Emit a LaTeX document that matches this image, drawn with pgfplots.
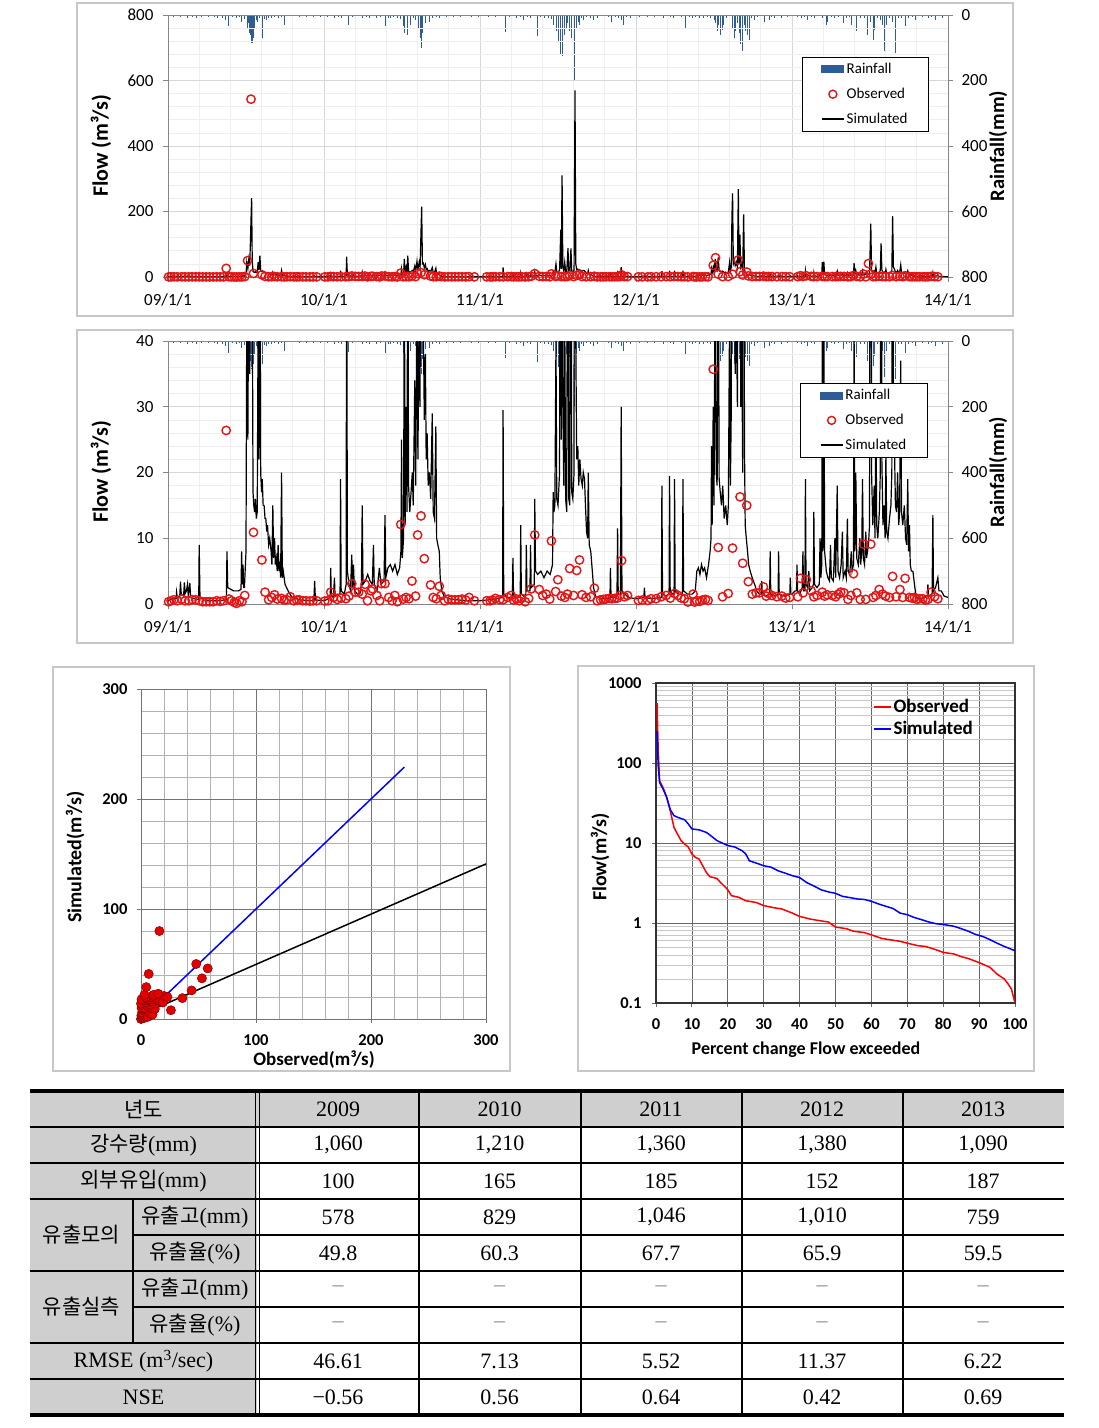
\documentclass[border=0pt]{standalone}
\usepackage{pgfplots}
\pgfplotsset{compat=1.18}
\usepackage{pgfplotstable}
\usepackage{fontspec}
\setmainfont{Carlito}
\newfontfamily\krfont{Noto Sans CJK KR}
\newfontfamily\tabserif{Liberation Serif}
\definecolor{rainblue}{RGB}{46,92,150}
\definecolor{obsred}{RGB}{230,20,20}
\definecolor{axgray}{RGB}{134,134,134}
\definecolor{gridmaj}{RGB}{215,215,215}
\definecolor{gridmin}{RGB}{238,238,238}
\definecolor{framegray}{RGB}{200,200,200}
\definecolor{tabgray}{RGB}{207,207,207}

\pgfplotstableread{
x y
2009.000 0.5
2009.030 0.8
2009.052 0.8
2009.055 1.8
2009.060 0.9
2009.075 1.0
2009.080 3.4
2009.085 1.5
2009.100 1.2
2009.105 3.3
2009.110 1.6
2009.118 2.0
2009.125 3.0
2009.130 1.2
2009.140 3.2
2009.145 1.0
2009.170 0.8
2009.197 0.7
2009.200 9.0
2009.205 1.0
2009.230 0.6
2009.300 0.5
2009.374 0.6
2009.378 8.0
2009.383 2.5
2009.420 2.0
2009.450 2.0
2009.468 2.2
2009.472 8.0
2009.476 3.0
2009.481 6.0
2009.485 2.5
2009.490 2.5
2009.500 8
2009.505 45
2009.512 25
2009.518 55
2009.524 35
2009.536 241
2009.540 50
2009.545 17
2009.550 15
2009.555 14
2009.560 16
2009.566 13
2009.572 14
2009.578 45
2009.583 22
2009.589 65
2009.594 20
2009.600 17
2009.604 19
2009.610 15
2009.616 15
2009.622 13
2009.627 13
2009.633 11
2009.638 12
2009.645 9
2009.652 10
2009.661 8
2009.666 6
2009.672 15
2009.677 7
2009.683 10
2009.688 6
2009.694 7
2009.700 5
2009.706 9
2009.711 5
2009.717 6
2009.722 4
2009.728 20
2009.733 4
2009.739 5
2009.750 3
2009.770 2
2009.795 1
2009.850 0.6
2009.935 0.5
2009.940 3.5
2009.945 0.6
2010.000 0.5
2010.030 0.8
2010.040 1.0
2010.043 5.5
2010.047 1.2
2010.060 1.0
2010.067 4.0
2010.071 1.2
2010.085 1.5
2010.103 1.5
2010.106 19
2010.110 2
2010.130 1.5
2010.142 3
2010.145 62
2010.150 5
2010.160 3
2010.170 2
2010.178 7.5
2010.183 2.5
2010.189 6
2010.195 2
2010.215 1.5
2010.230 1.5
2010.240 3
2010.245 15
2010.250 3
2010.265 3.5
2010.280 4.5
2010.295 3.5
2010.310 3
2010.317 9
2010.322 3
2010.340 2
2010.355 5.5
2010.365 3
2010.385 3.5
2010.391 13.5
2010.396 4
2010.410 5.5
2010.425 6
2010.440 5
2010.455 6
2010.470 4.5
2010.485 5.5
2010.493 8
2010.497 25
2010.502 7
2010.510 10
2010.515 55
2010.520 12
2010.527 30
2010.532 14
2010.537 65
2010.542 18
2010.550 14
2010.558 17
2010.566 20
2010.572 15
2010.582 34
2010.588 18
2010.596 48
2010.602 22
2010.610 45
2010.616 30
2010.626 215
2010.631 40
2010.637 42
2010.643 28
2010.650 38
2010.655 22
2010.661 26
2010.668 18
2010.676 20
2010.684 16
2010.694 29
2010.700 14
2010.708 13
2010.717 27
2010.722 10
2010.730 9
2010.739 8
2010.745 4
2010.755 2
2010.770 1.2
2010.800 0.8
2010.900 0.5
2011.000 0.5
2011.050 0.6
2011.100 0.8
2011.145 1
2011.148 29.5
2011.152 1.5
2011.180 1
2011.208 1
2011.211 7
2011.215 1.2
2011.240 1
2011.258 1.2
2011.261 12
2011.265 1.5
2011.280 1.2
2011.294 1.5
2011.297 9
2011.301 2
2011.320 2
2011.324 9
2011.328 2.5
2011.348 3
2011.351 16
2011.356 5
2011.370 4.5
2011.390 5
2011.410 4
2011.430 5
2011.450 4.5
2011.465 6
2011.469 17
2011.474 14
2011.480 15
2011.487 40
2011.492 16
2011.500 15
2011.510 20
2011.518 145
2011.521 25
2011.526 310
2011.531 30
2011.537 18
2011.543 45
2011.549 16
2011.556 14
2011.564 88
2011.569 16
2011.576 15
2011.583 87
2011.588 17
2011.595 16
2011.603 20
2011.609 570
2011.614 40
2011.620 22
2011.627 24
2011.633 18
2011.640 22
2011.648 19
2011.656 18
2011.662 20
2011.670 19
2011.676 15
2011.683 11
2011.690 10
2011.694 20
2011.700 9
2011.710 8
2011.720 5
2011.728 2.5
2011.740 1.2
2011.780 0.8
2011.833 0.8
2011.836 5.5
2011.840 1
2011.860 1
2011.878 1.2
2011.882 11.5
2011.886 1.5
2011.900 1.5
2011.905 30
2011.910 2
2011.950 1
2012.000 0.8
2012.050 1
2012.054 2.5
2012.058 1
2012.100 0.8
2012.163 1
2012.166 18
2012.170 1.5
2012.190 1.2
2012.212 1.5
2012.215 19.5
2012.219 2
2012.235 1.5
2012.244 1.5
2012.247 19
2012.251 2
2012.270 1.5
2012.298 1.5
2012.301 19
2012.305 2
2012.330 1.5
2012.360 1.5
2012.380 2
2012.390 5
2012.400 5.5
2012.410 4.5
2012.420 6
2012.430 5
2012.440 5.5
2012.452 4
2012.465 6
2012.475 8
2012.481 10
2012.484 24
2012.488 12
2012.495 30
2012.500 15
2012.508 55
2012.514 20
2012.520 18
2012.527 60
2012.533 19
2012.540 17
2012.548 15
2012.556 18
2012.565 13
2012.575 15
2012.585 12
2012.592 15
2012.600 45
2012.605 18
2012.611 30
2012.615 186
2012.619 255
2012.624 40
2012.630 50
2012.636 35
2012.643 45
2012.650 30
2012.656 268
2012.660 40
2012.666 129
2012.671 30
2012.678 40
2012.684 20
2012.690 191
2012.695 25
2012.700 12
2012.707 10
2012.715 8
2012.722 6
2012.732 5
2012.745 4
2012.760 3
2012.774 2
2012.790 1.5
2012.803 1.5
2012.806 3.5
2012.810 1.5
2012.830 1.2
2012.857 1.5
2012.860 8
2012.864 1.5
2012.890 1.2
2012.911 1.5
2012.914 8
2012.918 1.5
2012.950 1.2
2012.986 1.5
2012.989 4
2012.993 1.5
2013.000 1.5
2013.020 2
2013.029 2
2013.032 6
2013.036 2
2013.050 1.5
2013.065 2.5
2013.070 8
2013.074 2
2013.083 2
2013.086 19
2013.090 3
2013.100 2.5
2013.108 5
2013.113 2
2013.130 2.5
2013.137 3
2013.140 14
2013.144 3
2013.160 2.5
2013.175 3
2013.180 10
2013.185 4
2013.191 6
2013.194 45
2013.198 8
2013.204 47
2013.209 8
2013.220 5
2013.230 4
2013.240 3.5
2013.247 9
2013.252 4
2013.265 3.5
2013.275 10
2013.280 4
2013.290 18
2013.295 5
2013.305 4
2013.315 6
2013.323 11
2013.328 4
2013.340 5
2013.348 4
2013.355 13
2013.360 5
2013.370 4.5
2013.380 8
2013.385 5
2013.394 6
2013.398 42
2013.403 8
2013.409 20
2013.415 7
2013.425 6
2013.435 10
2013.440 6
2013.447 8
2013.452 19
2013.457 7
2013.465 6
2013.473 11
2013.478 7
2013.490 9
2013.497 12
2013.505 163
2013.510 20
2013.518 12
2013.527 18
2013.532 10
2013.538 30
2013.543 12
2013.550 10
2013.560 14
2013.566 20
2013.571 103
2013.576 22
2013.583 12
2013.590 15
2013.597 10
2013.602 23
2013.607 11
2013.615 10
2013.625 13
2013.634 15
2013.640 20
2013.645 186
2013.650 30
2013.656 25
2013.663 15
2013.670 14
2013.677 20
2013.684 12
2013.690 14
2013.697 37
2013.702 14
2013.710 12
2013.720 15
2013.728 10
2013.735 9
2013.742 19
2013.747 8
2013.753 12
2013.758 6
2013.765 5
2013.775 5
2013.785 3
2013.796 1
2013.820 0.8
2013.850 1
2013.868 1.2
2013.871 3
2013.875 1.2
2013.898 1.5
2013.903 13.5
2013.907 2
2013.920 2.5
2013.935 4
2013.942 2
2013.957 2
2013.975 1.2
2014.000 1
}\simdata

\pgfplotstableread{
x y
2009.004 0.35
2009.020 0.5
2009.038 0.65
2009.060 0.5
2009.088 0.75
2009.110 0.5
2009.133 0.5
2009.155 0.65
2009.178 0.65
2009.200 0.5
2009.222 0.35
2009.245 0.35
2009.267 0.35
2009.290 0.35
2009.312 0.5
2009.335 0.4
2009.357 0.5
2009.373 26.4
2009.391 0.75
2009.408 0.5
2009.425 0.25
2009.440 0.1
2009.458 0.5
2009.474 0.35
2009.492 1.3
2009.510 50
2009.532 543
2009.548 10.9
2009.602 6.7
2009.622 1.8
2009.645 0.65
2009.665 1.0
2009.683 1.4
2009.701 0.75
2009.728 0.85
2009.745 0.6
2009.762 0.65
2009.784 1.1
2009.807 0.5
2009.825 0.6
2009.840 0.65
2009.863 0.5
2009.885 0.5
2009.910 0.45
2009.930 0.5
2009.953 0.5
2010.005 0.45
2010.025 0.5
2010.043 1.8
2010.061 1.0
2010.085 0.7
2010.110 0.9
2010.140 0.8
2010.160 1.2
2010.178 3.1
2010.200 1.8
2010.222 1.8
2010.245 1.5
2010.263 3.0
2010.279 0.5
2010.301 2.0
2010.312 2.3
2010.339 1.3
2010.357 0.5
2010.369 3.1
2010.391 3.1
2010.415 1.0
2010.436 0.5
2010.454 1.3
2010.470 0.35
2010.492 12.1
2010.508 0.75
2010.526 1.0
2010.545 0.8
2010.564 3.5
2010.587 1.2
2010.600 10.5
2010.622 13.4
2010.643 6.9
2010.683 2.9
2010.700 1.0
2010.720 0.8
2010.739 2.7
2010.751 1.3
2010.773 0.5
2010.796 0.75
2010.818 0.65
2010.840 0.65
2010.863 0.65
2010.885 0.75
2010.908 0.6
2010.930 1.0
2010.964 0.5
2011.043 0.5
2011.065 0.5
2011.080 0.6
2011.099 0.85
2011.126 0.65
2011.148 0.65
2011.178 1.0
2011.200 1.3
2011.215 0.6
2011.234 0.75
2011.250 0.5
2011.267 0.85
2011.290 0.35
2011.312 0.85
2011.328 2.3
2011.351 10.5
2011.380 2.2
2011.402 1.3
2011.425 1.5
2011.447 0.75
2011.458 9.6
2011.485 1.9
2011.499 3.7
2011.522 1.2
2011.544 1.0
2011.560 1.5
2011.575 5.4
2011.600 1.3
2011.620 5.1
2011.638 6.7
2011.654 1.4
2011.680 1.0
2011.710 1.1
2011.733 2.4
2011.751 0.5
2011.773 0.65
2011.790 0.7
2011.807 0.75
2011.829 0.85
2011.845 0.8
2011.863 0.85
2011.880 0.9
2011.897 1.3
2011.908 6.6
2011.925 1.1
2011.946 1.3
2012.015 0.55
2012.040 0.6
2012.075 0.55
2012.097 0.8
2012.129 0.8
2012.161 1.1
2012.194 1.3
2012.220 0.9
2012.247 1.6
2012.269 1.3
2012.290 0.9
2012.310 0.8
2012.333 0.3
2012.366 1.5
2012.376 0.3
2012.390 0.5
2012.409 0.4
2012.425 0.6
2012.445 0.7
2012.462 0.55
2012.495 35.7
2012.510 59
2012.527 8.6
2012.555 1.1
2012.591 1.6
2012.619 8.5
2012.655 52
2012.667 16.3
2012.684 6.2
2012.710 15
2012.720 3.4
2012.745 1.5
2012.770 1.7
2012.791 1.7
2012.817 2.6
2012.835 1.2
2012.849 1.6
2012.871 1.3
2012.903 1.1
2012.935 1.2
2012.960 0.9
2012.985 1.0
2013.037 1.1
2013.054 3.9
2013.071 1.7
2013.092 3.7
2013.123 2.0
2013.140 1.1
2013.161 1.3
2013.194 1.8
2013.210 1.2
2013.226 1.4
2013.258 1.3
2013.280 1.1
2013.297 1.5
2013.312 1.8
2013.333 1.7
2013.359 0.7
2013.377 1.3
2013.394 4.6
2013.415 1.7
2013.437 0.7
2013.458 9.1
2013.473 0.7
2013.490 41
2013.505 9.1
2013.520 1.0
2013.538 1.3
2013.559 2.2
2013.580 1.5
2013.600 1.2
2013.625 1.0
2013.645 4.2
2013.667 1.1
2013.692 2.2
2013.710 1.0
2013.725 3.9
2013.753 1.0
2013.770 0.9
2013.785 1.0
2013.800 0.7
2013.817 0.8
2013.839 0.8
2013.855 0.6
2013.871 0.7
2013.892 1.8
2013.914 1.1
2013.935 0.8
}\obsdata

\pgfplotstableread{
x r
2009.034 5
2009.055 3
2009.079 5
2009.100 4
2009.124 8
2009.140 3
2009.157 5
2009.180 8
2009.195 4
2009.213 5
2009.235 3
2009.258 5
2009.280 4
2009.300 6
2009.315 8
2009.335 3
2009.348 8
2009.371 15
2009.387 35
2009.410 6
2009.438 10
2009.455 5
2009.472 20
2009.490 12
2009.506 40
2009.514 25
2009.521 55
2009.528 60
2009.535 85
2009.539 87
2009.546 70
2009.555 40
2009.565 15
2009.573 20
2009.585 10
2009.596 35
2009.607 70
2009.618 12
2009.629 15
2009.645 8
2009.663 10
2009.685 6
2009.708 10
2009.725 5
2009.748 30
2009.770 4
2009.798 8
2009.820 3
2009.843 5
2009.870 3
2009.888 5
2009.910 3
2009.933 5
2009.955 3
2009.978 5
2010.022 5
2010.045 4
2010.067 8
2010.090 5
2010.112 10
2010.135 4
2010.157 32
2010.180 5
2010.202 8
2010.225 4
2010.247 10
2010.270 5
2010.292 8
2010.315 4
2010.337 10
2010.360 6
2010.393 35
2010.410 8
2010.427 10
2010.445 6
2010.470 8
2010.490 12
2010.506 35
2010.517 55
2010.535 60
2010.551 30
2010.570 10
2010.585 15
2010.596 20
2010.607 40
2010.618 70
2010.625 100
2010.634 55
2010.652 25
2010.674 20
2010.697 10
2010.720 6
2010.742 8
2010.765 4
2010.787 5
2010.810 3
2010.831 5
2010.855 3
2010.876 5
2010.910 3
2010.944 5
2010.970 3
2010.989 5
2011.020 3
2011.056 5
2011.080 3
2011.101 5
2011.130 4
2011.164 51
2011.190 5
2011.215 3
2011.236 8
2011.260 5
2011.281 15
2011.305 6
2011.326 10
2011.345 4
2011.366 65
2011.390 6
2011.416 10
2011.440 8
2011.460 12
2011.472 30
2011.488 50
2011.501 80
2011.517 118
2011.528 126
2011.539 60
2011.551 40
2011.562 25
2011.573 50
2011.584 70
2011.596 45
2011.607 200
2011.618 40
2011.630 20
2011.640 30
2011.652 10
2011.663 15
2011.685 6
2011.708 8
2011.730 15
2011.753 10
2011.775 4
2011.798 8
2011.820 5
2011.843 20
2011.865 5
2011.888 8
2011.905 15
2011.918 30
2011.940 5
2011.965 8
2011.985 4
2012.020 5
2012.045 3
2012.070 6
2012.095 4
2012.120 5
2012.150 3
2012.176 10
2012.200 4
2012.220 6
2012.241 8
2012.265 4
2012.290 5
2012.316 40
2012.340 6
2012.359 10
2012.380 5
2012.405 8
2012.434 10
2012.455 6
2012.480 8
2012.500 15
2012.510 25
2012.520 50
2012.530 30
2012.538 60
2012.553 45
2012.563 30
2012.580 10
2012.600 15
2012.617 40
2012.628 70
2012.639 50
2012.650 25
2012.660 55
2012.671 90
2012.682 110
2012.692 30
2012.703 50
2012.714 60
2012.725 75
2012.740 10
2012.757 15
2012.780 6
2012.800 5
2012.822 20
2012.854 15
2012.870 5
2012.886 8
2012.905 4
2012.929 10
2012.950 3
2012.972 5
2012.990 3
2013.015 4
2013.035 6
2013.058 10
2013.080 5
2013.101 15
2013.125 5
2013.144 10
2013.170 4
2013.195 8
2013.219 30
2013.230 20
2013.250 5
2013.273 10
2013.300 6
2013.327 25
2013.350 8
2013.365 5
2013.381 30
2013.400 10
2013.413 50
2013.440 8
2013.467 10
2013.484 60
2013.500 20
2013.520 75
2013.531 45
2013.550 10
2013.565 15
2013.580 30
2013.591 110
2013.606 30
2013.625 10
2013.645 20
2013.660 115
2013.680 10
2013.700 8
2013.725 35
2013.746 10
2013.770 5
2013.789 15
2013.810 4
2013.835 6
2013.855 3
2013.875 10
2013.895 5
2013.918 15
2013.940 4
2013.961 10
2013.980 4
}\raindata

\pgfplotsset{
  rainax/.style={scale only axis, width=780pt, anchor=south west,
    xmin=2009, xmax=2014, ymin=-800, ymax=0,
    axis x line=none, axis y line*=right,
    ytick={-800,-600,-400,-200,0}, yticklabels={800,600,400,200,0},
    axis line style={draw=axgray, line width=1pt},
    tick style={draw=axgray, line width=1pt}, tick align=outside, major tick length=5pt,
    ticklabel style={font=\fontsize{17}{20}\selectfont},
    yticklabel style={xshift=5pt},
    /pgf/number format/assume math mode=true},
  flowax/.style={scale only axis, width=780pt, anchor=south west,
    xmin=2009, xmax=2014, xtick={2009,2010,2011,2012,2013,2014},
    xticklabels={09/1/1,10/1/1,11/1/1,12/1/1,13/1/1,14/1/1},
    minor x tick num=4, minor y tick num=4, grid=both,
    major grid style={draw=gridmaj, line width=0.8pt},
    minor grid style={draw=gridmin, line width=0.7pt},
    axis line style={draw=axgray, line width=1pt},
    tick style={draw=axgray, line width=1pt}, tick align=outside, tick pos=left,
    major tick length=5pt, minor tick length=0pt,
    ticklabel style={font=\fontsize{17}{20}\selectfont},
    yticklabel style={xshift=-6pt},
    xticklabel style={yshift=-8pt},
    /pgf/number format/assume math mode=true,
    clip mode=individual,
    legend cell align=left,
    legend style={anchor=north east, draw=black, line width=0.8pt, fill=white,
      font=\fontsize{15}{18}\selectfont, row sep=9pt, inner xsep=19pt, inner ysep=4pt},
    legend entries={Rainfall,Observed,Simulated}},
  simstyle/.style={black, line width=1.2pt, no marks, forget plot},
  obsstyle/.style={only marks, mark=o, mark size=4.2pt, mark options={draw=obsred, line width=1.4pt}, forget plot},
}

\newcommand\legimgs{%
  \addlegendimage{legend image code/.code={\fill[rainblue] (0pt,-3.5pt) rectangle (22pt,3.5pt);}}
  \addlegendimage{legend image code/.code={\draw[obsred, line width=1.4pt] (11pt,0pt) circle (4pt);}}
  \addlegendimage{legend image code/.code={\draw[black, line width=1.6pt] (0pt,0pt) -- (22pt,0pt);}}}

\newcommand\rowvals[6]{%
  \node[font=\tabserif\fontsize{22}{24}\selectfont] at (338pt,-#1pt) {#2};
  \node[font=\tabserif\fontsize{22}{24}\selectfont] at (499.5pt,-#1pt) {#3};
  \node[font=\tabserif\fontsize{22}{24}\selectfont] at (661pt,-#1pt) {#4};
  \node[font=\tabserif\fontsize{22}{24}\selectfont] at (822pt,-#1pt) {#5};
  \node[font=\tabserif\fontsize{22}{24}\selectfont] at (983pt,-#1pt) {#6};}
\newcommand\dashrow[1]{%
  \foreach \xx in {338,499.5,661,822,983}{\node[font=\tabserif\fontsize{22}{24}\selectfont, text=black!45] at (\xx pt,-#1pt) {–};}}

\begin{document}
\begin{tikzpicture}
\useasboundingbox (0pt,0pt) rectangle (1099pt,-1428pt);
\fill[white] (0pt,0pt) rectangle (1099pt,-1428pt);

% frames
\draw[framegray, line width=1.2pt] (77pt,-3pt) rectangle (1013pt,-316pt);
\draw[framegray, line width=1.2pt] (77pt,-330pt) rectangle (1013pt,-643pt);
\draw[framegray, line width=1.2pt] (53pt,-667pt) rectangle (510pt,-1071pt);
\draw[framegray, line width=1.2pt] (578pt,-666pt) rectangle (1034pt,-1071pt);

% ===== Chart 1 =====
\begin{axis}[rainax, at={(168pt,-277pt)}, height=262pt]
\addplot[ycomb, draw=rainblue, line width=0.85pt, no marks] table[x=x, y expr=-\thisrow{r}] {\raindata};
\end{axis}
\begin{axis}[flowax, at={(168pt,-277pt)}, height=262pt, ymin=0, ymax=800,
  ytick={0,200,400,600,800}, legend style={at={(0.9756,0.84)}}]
\legimgs
\addplot[simstyle] table[x=x,y=y] {\simdata};
\addplot[obsstyle] table[x=x,y=y] {\obsdata};
\end{axis}
\node[rotate=90, font=\bfseries\fontsize{22}{24}\selectfont] at (101pt,-146pt) {Flow (m³/s)};
\node[rotate=90, font=\bfseries\fontsize{20.5}{24}\selectfont] at (998pt,-146pt) {Rainfall(mm)};

% ===== Chart 2 =====
\begin{axis}[rainax, at={(168pt,-604pt)}, height=263pt]
\addplot[ycomb, draw=rainblue, line width=0.85pt, no marks] table[x=x, y expr=-\thisrow{r}] {\raindata};
\end{axis}
\begin{axis}[flowax, at={(168pt,-604pt)}, height=263pt, ymin=0, ymax=40,
  ytick={0,10,20,30,40}, legend style={at={(0.974,0.84)}}]
\legimgs
\addplot[simstyle] table[x=x,y=y] {\simdata};
\addplot[obsstyle] table[x=x,y=y] {\obsdata};
\end{axis}
\node[rotate=90, font=\bfseries\fontsize{22}{24}\selectfont] at (101pt,-472pt) {Flow (m³/s)};
\node[rotate=90, font=\bfseries\fontsize{20.5}{24}\selectfont] at (998pt,-472pt) {Rainfall(mm)};

% ===== Scatter =====
\begin{axis}[scale only axis, at={(141pt,-1019pt)}, anchor=south west, width=345pt, height=330pt,
  xmin=0, xmax=300, ymin=0, ymax=300, xtick={0,100,200,300}, ytick={0,100,200,300},
  minor tick num=4, grid=both,
  major grid style={draw=black!55, line width=0.8pt},
  minor grid style={draw=black!30, line width=0.7pt},
  axis line style={draw=black!55, line width=1pt},
  tick style={draw=black!55, line width=1pt}, tick align=outside, tick pos=left,
  major tick length=4pt, minor tick length=0pt,
  ticklabel style={font=\bfseries\fontsize{16.5}{19}\selectfont},
  yticklabel style={xshift=-6pt}, xticklabel style={yshift=-8pt},
  /pgf/number format/assume math mode=true, clip mode=individual]
\addplot[blue, line width=1.5pt, no marks] coordinates {(0,0) (229,229)};
\addplot[black, line width=1.5pt, no marks] coordinates {(0,4) (300,141)};
\addplot[only marks, mark=*, mark size=4.6pt, mark options={fill=red!90!black, draw=red!50!black, line width=0.5pt}] coordinates {
(0,0) (1,1) (0.3,3) (1.5,1) (3,1) (2,3) (3,4) (5,6) (1,6) (2,8) (4,8) (7,8) (6,2) (8,5) (10,4)
(0.5,10) (3,10) (9,10) (12,9) (1,13) (6,12) (8,13) (12,14) (0,14) (5,15) (9,16) (2,17) (6,17)
(14,17) (0.5,18) (7,18) (11,18) (5,19) (13,19) (17,16) (19,15) (8,20) (10,21) (20,21) (4,20)
(11,22) (3,22) (15,23) (4.6,29) (6.7,41) (16,80) (23,20) (26,8) (36,19) (44,26) (53,37) (48,50) (58,46)};
\end{axis}
\node[rotate=90, font=\bfseries\fontsize{20}{24}\selectfont] at (75pt,-857pt) {Simulated(m³/s)};
\node[font=\bfseries\fontsize{19}{22}\selectfont] at (314pt,-1060pt) {Observed(m³/s)};

% ===== FDC =====
\begin{axis}[scale only axis, at={(656pt,-1003pt)}, anchor=south west, width=359pt, height=320pt,
  ymode=log, xmin=0, xmax=100, ymin=0.1, ymax=1000,
  xtick={0,10,...,100}, ytick={0.1,1,10,100,1000}, yticklabels={0.1,1,10,100,1000},
  grid=both, xminorgrids=false,
  major grid style={draw=black!60, line width=0.8pt},
  minor grid style={draw=black!22, line width=0.6pt},
  axis line style={draw=black!80, line width=1.2pt},
  tick style={draw=black!60, line width=1pt}, tick align=outside, tick pos=left,
  major tick length=4pt, minor tick length=0pt,
  ticklabel style={font=\bfseries\fontsize{16.5}{19}\selectfont},
  yticklabel style={xshift=-7pt}, xticklabel style={yshift=-8pt},
  /pgf/number format/assume math mode=true,
  legend cell align=left,
  legend style={at={(0.604,0.955)}, anchor=north west, draw=none, fill=none,
    font=\bfseries\fontsize{19}{22}\selectfont, row sep=3pt, inner sep=0pt},
  legend image code/.code={\draw[#1, line width=1.5pt] (0pt,0pt) -- (17pt,0pt);}]
\addplot[red, line width=1.5pt, no marks] coordinates {
(0.3,560) (0.6,150) (1,60) (2,49) (3,37) (4,25) (5,15.7) (6,12.9) (7,10.7) (8,9.7) (9,8.9) (10,7.3)
(11,6.6) (12,6.3) (13,5.2) (14,4.3) (15,3.8) (17,3.6) (18,3.2) (19,2.9) (20,2.6) (21,2.2) (23,2.1)
(25,1.9) (28,1.8) (30,1.65) (33,1.55) (35,1.5) (38,1.33) (40,1.21) (43,1.12) (45,1.08) (48,1.03)
(50,0.89) (53,0.85) (55,0.79) (58,0.76) (60,0.71) (63,0.64) (65,0.62) (68,0.59) (70,0.56) (73,0.52)
(75,0.51) (77,0.48) (80,0.43) (83,0.41) (85,0.38) (87,0.36) (90,0.32) (93,0.28) (95,0.23) (97,0.20)
(98,0.175) (99,0.15) (100,0.1)};
\addlegendentry{Observed}
\addplot[blue, line width=1.5pt, no marks] coordinates {
(0.3,250) (0.6,95) (1,57) (2,47) (3,37) (4,26) (5,22) (6,21) (8,19.5) (9,17.3) (10,15) (12,14.6)
(14,13.6) (15,12.6) (17,10.7) (20,9.3) (22,8.9) (24,8.0) (25,7.3) (26,6.0) (28,5.6) (30,5.2) (32,5.0)
(34,4.5) (36,4.2) (38,3.9) (40,3.7) (42,3.2) (44,2.9) (46,2.6) (48,2.45) (50,2.35) (52,2.15) (54,2.08)
(56,2.0) (58,1.97) (60,1.87) (62,1.73) (64,1.62) (66,1.52) (68,1.33) (70,1.27) (72,1.17) (74,1.10)
(76,1.03) (78,0.98) (80,0.96) (83,0.91) (85,0.85) (87,0.79) (89,0.72) (91,0.68) (93,0.62) (95,0.56)
(97,0.51) (100,0.45)};
\addlegendentry{Simulated}
\end{axis}
\node[rotate=90, font=\bfseries\fontsize{20}{24}\selectfont] at (600pt,-857pt) {Flow(m³/s)};
\node[font=\bfseries\fontsize{18}{22}\selectfont] at (806pt,-1050pt) {Percent change Flow exceeded};

% ===== Table =====
\fill[tabgray] (30pt,-1091pt) rectangle (1064pt,-1127pt);
\fill[tabgray] (30pt,-1127pt) rectangle (257pt,-1415pt);
\draw[black, line width=1.2pt] (30pt,-1127pt) -- (1064pt,-1127pt);
\draw[black, line width=1.2pt] (30pt,-1163pt) -- (1064pt,-1163pt);
\draw[black, line width=1.2pt] (30pt,-1199pt) -- (1064pt,-1199pt);
\draw[black, line width=1.2pt] (133pt,-1235pt) -- (1064pt,-1235pt);
\draw[black, line width=1.2pt] (30pt,-1271pt) -- (1064pt,-1271pt);
\draw[black, line width=1.2pt] (133pt,-1307pt) -- (1064pt,-1307pt);
\draw[black, line width=1.2pt] (30pt,-1343pt) -- (1064pt,-1343pt);
\draw[black, line width=1.2pt] (30pt,-1379pt) -- (1064pt,-1379pt);
\draw[black, line width=1pt] (255.5pt,-1091pt) -- (255.5pt,-1415pt);
\draw[black, line width=1pt] (259pt,-1091pt) -- (259pt,-1415pt);
\foreach \xx in {419,581,742,903}{\draw[black, line width=1.2pt] (\xx pt,-1091pt) -- (\xx pt,-1415pt);}
\draw[black, line width=1.2pt] (133pt,-1199pt) -- (133pt,-1343pt);
\draw[black, line width=3.2pt] (30pt,-1091pt) -- (1064pt,-1091pt);
\draw[black, line width=3.2pt] (30pt,-1415pt) -- (1064pt,-1415pt);

\begin{scope}[every node/.style={font=\tabserif\fontsize{22}{24}\selectfont, inner sep=0pt}]
\node at (143.5pt,-1109pt) {\krfont\fontsize{21}{24}\selectfont 년도};
\node at (143.5pt,-1145pt) {{\krfont\fontsize{21}{24}\selectfont 강수량}(mm)};
\node at (143.5pt,-1181pt) {{\krfont\fontsize{21}{24}\selectfont 외부유입}(mm)};
\node at (81.5pt,-1235pt) {\krfont\fontsize{21}{24}\selectfont 유출모의};
\node at (195pt,-1217pt) {{\krfont\fontsize{21}{24}\selectfont 유출고}(mm)};
\node at (195pt,-1253pt) {{\krfont\fontsize{21}{24}\selectfont 유출율}(\%)};
\node at (81.5pt,-1307pt) {\krfont\fontsize{21}{24}\selectfont 유출실측};
\node at (195pt,-1289pt) {{\krfont\fontsize{21}{24}\selectfont 유출고}(mm)};
\node at (195pt,-1325pt) {{\krfont\fontsize{21}{24}\selectfont 유출율}(\%)};
\node at (143.5pt,-1361pt) {RMSE\ (m\textsuperscript{3}/sec)};
\node at (143.5pt,-1397pt) {NSE};
\end{scope}
\rowvals{1109}{2009}{2010}{2011}{2012}{2013}
\rowvals{1145}{1,060}{1,210}{1,360}{1,380}{1,090}
\rowvals{1181}{100}{165}{185}{152}{187}
\rowvals{1217}{578}{829}{1,046}{1,010}{759}
\rowvals{1253}{49.8}{60.3}{67.7}{65.9}{59.5}
\dashrow{1289}
\dashrow{1325}
\rowvals{1361}{46.61}{7.13}{5.52}{11.37}{6.22}
\rowvals{1397}{−0.56}{0.56}{0.64}{0.42}{0.69}
\end{tikzpicture}
\end{document}
